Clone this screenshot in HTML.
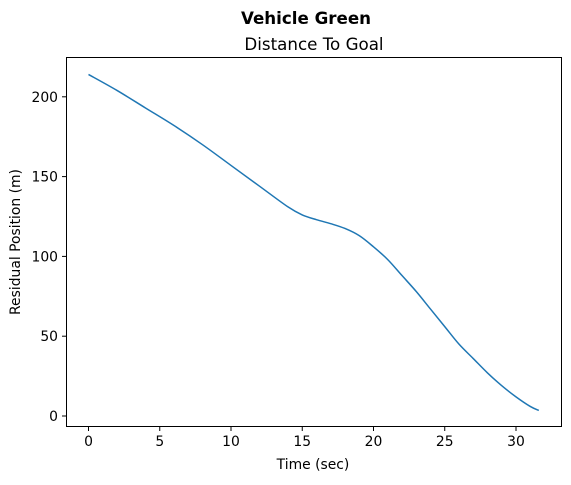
<!DOCTYPE html>
<html><head><meta charset="utf-8"><style>
body{margin:0;background:#fff;}
svg text{font-family:"DejaVu Sans","Liberation Sans",sans-serif;fill:#000;}
</style></head><body>
<svg id="chart" width="571" height="480" xmlns="http://www.w3.org/2000/svg">
<rect width="571" height="480" fill="#fff"/>
<text x="306" y="24" font-size="16.7" font-weight="bold" text-anchor="middle">Vehicle Green</text>
<text x="314" y="50" font-size="16.7" text-anchor="middle">Distance To Goal</text>
<g id="ticks"></g>
<path id="line" fill="none" stroke="#1f77b4" stroke-width="1.5"/>
<rect x="66.5" y="57.5" width="495" height="369" fill="none" stroke="#000" stroke-width="1"/>
<text x="313" y="469" font-size="13.9" text-anchor="middle">Time (sec)</text>
<text x="20" y="242" font-size="13.9" text-anchor="middle" transform="rotate(-90 20 242)">Residual Position (m)</text>
</svg>
<script>
const times=[0,2,4,6,8,10,12,14,15,16,17,18,19,20,21,22,23,24,25,26,27,28,29,30,31,31.6];
const distances=[214,204,193,182,170,157,144,131,126,123,120.5,117.5,113,106,98,88,78,67,56,45,36,27,19,12,6,3.5];
const xTicks=[0,5,10,15,20,25,30];
const yTicks=[0,50,100,150,200];
const sx=t=>88.5+t*14.25;
const sy=v=>416-v*1.596;
const ns="http://www.w3.org/2000/svg";
const pts=times.map((t,i)=>[sx(t),sy(distances[i])]);
let d='M'+pts[0][0]+','+pts[0][1];
for(let i=0;i<pts.length-1;i++){
 const p0=pts[Math.max(0,i-1)],p1=pts[i],p2=pts[i+1],p3=pts[Math.min(pts.length-1,i+2)];
 const c1=[p1[0]+(p2[0]-p0[0])/6,p1[1]+(p2[1]-p0[1])/6];
 const c2=[p2[0]-(p3[0]-p1[0])/6,p2[1]-(p3[1]-p1[1])/6];
 d+=' C'+c1[0]+','+c1[1]+' '+c2[0]+','+c2[1]+' '+p2[0]+','+p2[1];
}
document.getElementById('line').setAttribute('d',d);
const g=document.getElementById('ticks');
xTicks.forEach(t=>{
 const l=document.createElementNS(ns,'line');
 l.setAttribute('x1',sx(t));l.setAttribute('x2',sx(t));l.setAttribute('y1',427);l.setAttribute('y2',431);l.setAttribute('stroke','#000');
 
 
 g.appendChild(l);
 const tx=document.createElementNS(ns,'text');
 tx.setAttribute('x',sx(t));tx.setAttribute('y',446);tx.setAttribute('font-size','13.9');tx.setAttribute('text-anchor','middle');tx.textContent=t;
 
 
 g.appendChild(tx);
});
yTicks.forEach(v=>{
 const l=document.createElementNS(ns,'line');
 l.setAttribute('x1',62);l.setAttribute('x2',66);l.setAttribute('y1',sy(v));l.setAttribute('y2',sy(v));l.setAttribute('stroke','#000');
 
 
 g.appendChild(l);
 const tx=document.createElementNS(ns,'text');
 tx.setAttribute('x',58);tx.setAttribute('y',sy(v)+5);tx.setAttribute('font-size','13.9');tx.setAttribute('text-anchor','end');tx.textContent=v;
 
 
 g.appendChild(tx);
});
</script>
</body></html>
